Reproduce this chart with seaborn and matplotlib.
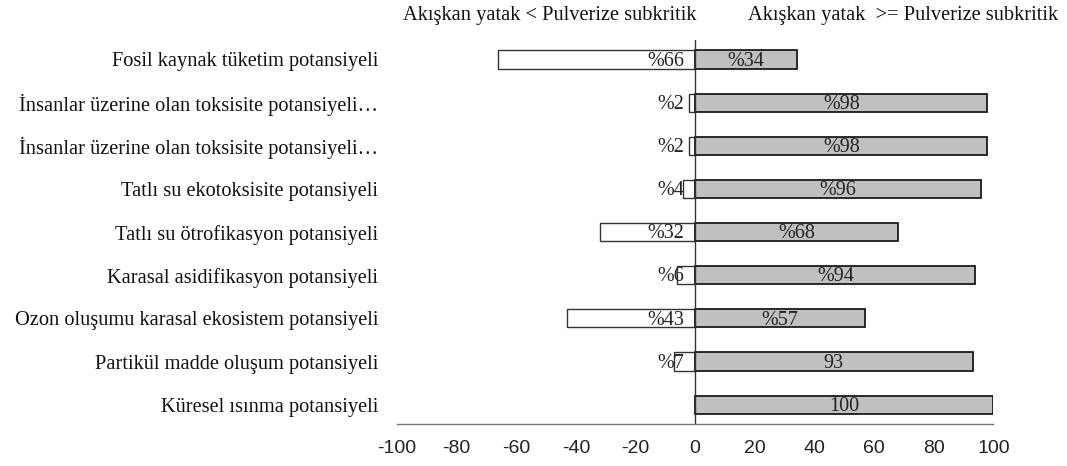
import pandas as pd
import matplotlib.pyplot as plt
import seaborn as sns

# Chart data
categories = [
    "Fosil kaynak tüketim potansiyeli",
    "İnsanlar üzerine olan toksisite potansiyeli…",
    "İnsanlar üzerine olan toksisite potansiyeli…",
    "Tatlı su ekotoksisite potansiyeli",
    "Tatlı su ötrofikasyon potansiyeli",
    "Karasal asidifikasyon potansiyeli",
    "Ozon oluşumu karasal ekosistem potansiyeli",
    "Partikül madde oluşum potansiyeli",
    "Küresel ısınma potansiyeli",
]
left_share = [66, 2, 2, 4, 32, 6, 43, 7, 0]
right_share = [34, 98, 98, 96, 68, 94, 57, 93, 100]
left_labels = ["%66", "%2", "%2", "%4", "%32", "%6", "%43", "%7", ""]
right_labels = ["%34", "%98", "%98", "%96", "%68", "%94", "%57", "93", "100"]
x_ticks = [-100, -80, -60, -40, -20, 0, 20, 40, 60, 80, 100]
header_left = "Akışkan yatak < Pulverize subkritik"
header_right = "Akışkan yatak  >= Pulverize subkritik"

SERIF = ["Liberation Serif", "DejaVu Serif"]
SANS = ["Liberation Sans", "DejaVu Sans"]

df = pd.DataFrame({
    "row": range(len(categories)),
    "left": [-v for v in left_share],
    "right": right_share,
})


def plot_diverging(data):
    sns.set_style("white")
    plt.rcParams["font.family"] = SANS
    fig = plt.figure(figsize=(10.67, 4.66), dpi=100)
    ax = fig.add_axes([0.372, 0.090, 0.559, 0.824])

    sns.barplot(data=data, y="row", x="left", orient="h", color="white",
                edgecolor="#333333", linewidth=1.0, width=0.42, saturation=1,
                ax=ax)
    sns.barplot(data=data, y="row", x="right", orient="h", color="#c0c0c0",
                edgecolor="#1a1a1a", linewidth=1.3, width=0.42, saturation=1,
                ax=ax)

    for i, (lv, rv) in enumerate(zip(left_share, right_share)):
        if left_labels[i]:
            ax.text(-3.5, i + 0.04, left_labels[i], ha="right", va="center",
                    family=SERIF, fontsize=14.5, color="#222222")
        ax.text(rv / 2, i + 0.04, right_labels[i], ha="center", va="center",
                family=SERIF, fontsize=14.5, color="#222222")

    ax.axvline(0, color="#333333", lw=1.0)
    ax.set_xlim(-100, 100)
    ax.set_ylim(len(categories) - 0.55, -0.45)
    ax.set_xticks(x_ticks)
    ax.set_xticklabels([str(t) for t in x_ticks], fontsize=14, color="#222222")
    ax.set_yticks(range(len(categories)))
    ax.set_yticklabels(categories, family=SERIF, fontsize=14.7, color="#111111")
    ax.tick_params(axis="y", length=0, pad=13.5)
    ax.tick_params(axis="x", direction="out", length=4, color="#777777",
                   width=1, pad=7.5)
    ax.set_xlabel("")
    ax.set_ylabel("")
    for side in ["left", "top", "right"]:
        ax.spines[side].set_visible(False)
    ax.spines["bottom"].set_color("#777777")
    ax.spines["bottom"].set_linewidth(1)

    fig.text(0.515, 0.966, header_left, ha="center", va="center",
             family=SERIF, fontsize=14.7, color="#111111")
    fig.text(0.846, 0.966, header_right, ha="center", va="center",
             family=SERIF, fontsize=14.7, color="#111111")

    fig.savefig("out.png", dpi=100)


if __name__ == "__main__":
    plot_diverging(df)
